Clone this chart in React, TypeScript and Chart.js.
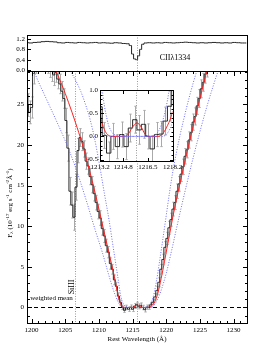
import React, { useEffect, useRef } from "react";
import { Chart, registerables } from "chart.js";

Chart.register(...registerables);

const SERIF = "'Liberation Serif', 'Times New Roman', Times, serif";

// ---------- spectrum around Lyman alpha (flux, 1e-17 erg/s/cm2/A) ----------
const wave = [
  1199.4, 1199.7, 1200.0, 1200.3, 1200.6, 1200.9,
  1201.2, 1201.5, 1201.8, 1202.1, 1202.4, 1202.7,
  1203.0, 1203.3, 1203.6, 1203.9, 1204.2, 1204.5, 1204.8,
  1205.1, 1205.4, 1205.7, 1206.0, 1206.3, 1206.6, 1206.9,
  1207.2, 1207.5, 1207.8, 1208.1, 1208.4, 1208.7, 1209.0, 1209.3, 1209.6, 1209.9,
  1210.2, 1210.5, 1210.8, 1211.1, 1211.4, 1211.7, 1212.0, 1212.3, 1212.6, 1212.9,
  1213.2, 1213.5, 1213.8, 1214.1, 1214.4, 1214.7, 1215.0, 1215.3, 1215.6, 1215.9,
  1216.2, 1216.5, 1216.8, 1217.1, 1217.4, 1217.7,
  1218.0, 1218.3, 1218.6, 1218.9, 1219.2, 1219.5, 1219.8, 1220.1, 1220.4, 1220.7,
  1221.0, 1221.3, 1221.6, 1221.9, 1222.2, 1222.5, 1222.8, 1223.1, 1223.4, 1223.7,
  1224.0, 1224.3, 1224.6, 1224.9, 1225.2, 1225.5, 1225.8, 1226.1, 1226.4, 1226.7,
];
const flux = [
  24.9, 24.0, 24.6, 28.8, 30.2, 31.0,
  31.2, 31.4, 31.0, 30.8, 30.2, 29.7,
  29.1, 28.6, 28.9, 28.1, 27.5, 26.6, 25.7,
  23.0, 19.6, 14.3, 12.6, 11.1, 14.8, 19.3,
  20.9, 20.4, 19.5, 18.0, 17.4, 16.1, 15.1, 14.0, 12.9, 11.8,
  11.0, 9.7, 8.8, 7.6, 6.8, 5.4, 4.7, 3.4, 2.6, 1.4,
  0.64, 0.02, -0.36, 0.0, -0.22, 0.04, -0.22, 0.18, 0.36, 0.14,
  0.26, 0.0, -0.27, 0.04, 0.05, 0.33,
  0.65, 1.3, 2.1, 3.1, 4.7, 5.9, 7.4, 8.5, 9.8, 10.8,
  12.1, 12.9, 14.3, 15.2, 16.4, 17.3, 18.6, 19.4, 20.6, 21.5,
  22.8, 23.5, 24.8, 25.7, 26.9, 27.7, 28.7, 29.5, 30.6, 31.4,
];
const fluxErr = [
  1.4, 1.4, 1.3, 1.3, 1.4, 1.4,
  1.4, 1.4, 1.4, 1.4, 1.4, 1.4,
  1.3, 1.3, 1.2, 1.2, 1.2, 1.2, 1.2,
  1.5, 1.6, 1.7, 1.6, 1.6, 1.6, 1.5,
  1.1, 1.1, 1.0, 1.0, 1.0, 1.0, 1.0, 0.9, 0.9, 0.9,
  0.9, 0.8, 0.8, 0.8, 0.7, 0.7, 0.6, 0.6, 0.5, 0.4,
  0.30, 0.28, 0.24, 0.28, 0.26, 0.27, 0.28, 0.30, 0.29, 0.31,
  0.30, 0.27, 0.28, 0.26, 0.27, 0.30,
  0.32, 0.4, 0.5, 0.55, 0.6, 0.65, 0.7, 0.75, 0.8, 0.8,
  0.85, 0.85, 0.9, 0.9, 0.9, 0.95, 0.95, 1.0, 1.0, 1.0,
  1.0, 1.05, 1.05, 1.1, 1.1, 1.1, 1.1, 1.15, 1.15, 1.2,
];

// ---------- best-fit profile (red) ----------
const fitWave = [
  1203.3, 1204.5, 1205.5, 1206.5, 1207.5, 1208.5, 1209.5, 1210.5, 1211.5, 1212.3,
  1212.9, 1213.2, 1213.5, 1213.8, 1214.1, 1214.8, 1215.1, 1215.4, 1215.75, 1216.05,
  1216.3, 1216.6, 1217.2, 1217.5, 1217.8, 1218.2, 1218.6, 1219.0, 1219.5, 1220.0,
  1220.5, 1221.0, 1221.5, 1222.0, 1223.0, 1224.0, 1225.0, 1226.0, 1226.6,
];
const fitFlux = [
  29.7, 27.4, 25.2, 22.8, 20.2, 17.2, 13.9, 10.3, 6.7, 3.8,
  1.3, 0.5, 0.15, 0.02, 0.0, 0.0, 0.03, 0.18, 0.29, 0.2,
  0.05, 0.0, 0.0, 0.05, 0.2, 0.54, 1.3, 2.6, 4.6, 6.8,
  9.0, 11.2, 13.2, 15.1, 18.8, 22.3, 25.7, 29.0, 31.0,
];

// ---------- +/- column density profiles (blue dotted) ----------
const wideWave = [
  1200.0, 1200.4, 1202.0, 1203.5, 1205.0, 1206.5, 1208.0, 1209.5, 1210.5, 1211.5,
  1212.3, 1213.0, 1213.5, 1214.0, 1217.4, 1217.8, 1218.2, 1218.6, 1219.2, 1220.0,
  1220.8, 1221.6, 1222.4, 1223.2, 1224.0, 1225.0, 1226.0, 1227.0, 1228.0, 1228.6,
];
const wideFlux = [
  30.0, 29.0, 26.0, 23.3, 20.5, 17.3, 13.5, 9.4, 6.8, 3.9,
  1.8, 0.45, 0.05, 0.0, 0.0, 0.05, 0.3, 0.8, 2.0, 4.2,
  7.0, 10.0, 12.9, 15.7, 18.4, 21.6, 24.6, 27.3, 29.8, 31.0,
];
const narrowWave = [
  1205.2, 1205.7, 1206.5, 1207.3, 1208.0, 1208.7, 1209.4, 1210.1, 1210.8, 1211.5,
  1212.2, 1212.8, 1213.3, 1213.7, 1214.0, 1214.3, 1214.6, 1216.6, 1216.9, 1217.3,
  1217.7, 1218.0, 1218.5, 1219.0, 1219.5, 1220.0, 1220.5, 1221.0, 1221.5, 1222.0,
  1222.5, 1223.0, 1223.5, 1224.0, 1224.7, 1225.2,
];
const narrowFlux = [
  30.0, 29.2, 28.0, 26.6, 25.0, 23.1, 20.6, 17.5, 14.1, 10.8,
  7.0, 3.8, 1.2, 0.35, 0.1, 0.02, 0.0, 0.0, 0.02, 0.15,
  0.55, 1.1, 3.0, 5.6, 8.4, 11.3, 14.2, 16.8, 19.0, 21.0,
  22.8, 24.5, 26.1, 27.6, 29.5, 30.6,
];

// ---------- CII 1334 normalised profile (top panel) ----------
const ciiWave = [
  1199.3, 1199.9, 1200.5, 1201.1, 1201.7, 1202.3, 1202.9, 1203.5, 1204.1, 1204.7,
  1205.3, 1205.9, 1206.5, 1207.1, 1207.7, 1208.3, 1208.9, 1209.5, 1210.1, 1210.7,
  1211.3, 1211.9, 1212.5, 1213.1, 1213.7, 1214.3, 1214.7, 1215.0, 1215.3, 1215.6,
  1215.9, 1216.2, 1216.5, 1216.9, 1217.5, 1218.1, 1218.7, 1219.3, 1219.9, 1220.5,
  1221.1, 1221.7, 1222.3, 1222.9, 1223.5, 1224.1, 1224.7, 1225.3, 1225.9, 1226.5,
  1227.1, 1227.7, 1228.3, 1228.9, 1229.5, 1230.1, 1230.7, 1231.3, 1231.9,
];
const ciiFlux = [
  1.06, 1.05, 1.07, 1.08, 1.10, 1.11, 1.10, 1.09, 1.06, 1.05,
  1.07, 1.06, 1.05, 1.07, 1.06, 1.05, 1.06, 1.07, 1.05, 1.06,
  1.05, 1.04, 1.06, 1.05, 1.03, 1.02, 0.95, 0.62, 0.43, 0.40,
  0.55, 0.80, 1.00, 1.05, 1.06, 1.05, 1.06, 1.05, 1.07, 1.06,
  1.05, 1.06, 1.07, 1.08, 1.07, 1.06, 1.05, 1.06, 1.05, 1.06,
  1.07, 1.06, 1.05, 1.06, 1.05, 1.07, 1.06, 1.05, 1.05,
];

// ---------- reference lines and tick labels ----------
const lineSiIII = 1206.5;
const lineLya = 1215.67;
const mainXTicks = [1200, 1205, 1210, 1215, 1220, 1225, 1230];
const mainYTicks = [0, 5, 10, 15, 20, 25];
const topYTicks = [0, 0.4, 0.8, 1.2];
const insetXTicks = [1213.2, 1214.8, 1216.5, 1218.2];
const insetYTicks = [-0.5, 0, 0.5, 1.0];

// ---------- layout ----------
const PW = 274;
const PH = 360;
const MAIN = { l: 27, t: 71, r: 247, b: 323 };
const TOP = { l: 27, t: 35, r: 247, b: 71 };
const INSET = { l: 100, t: 90, r: 172.5, b: 161 };

const pts = (xs: number[], ys: number[]) => xs.map((x, i) => ({ x, y: ys[i] }));
const range = (a: number, b: number, s: number) => {
  const out: number[] = [];
  for (let v = a; v <= b + 1e-9; v += s) out.push(+v.toFixed(4));
  return out;
};

function axis(min: number, max: number, vals: number[], fmt: (v: number) => string, size: number, show: boolean, pad: number) {
  return {
    type: "linear",
    min,
    max,
    bounds: "data",
    display: true,
    grid: { display: false, drawTicks: false },
    border: { display: false },
    afterBuildTicks: (s: any) => {
      s.ticks = vals.map((v) => ({ value: v }));
    },
    afterFit: (s: any) => {
      if (s.isHorizontal()) s.height = size;
      else s.width = size;
    },
    ticks: {
      display: show,
      autoSkip: false,
      maxRotation: 0,
      minRotation: 0,
      padding: pad,
      color: "#000",
      font: { family: SERIF, size: 7 },
      callback: (v: any) => fmt(Number(v)),
    },
  };
}

const histDs = (data: any[]) => ({
  data,
  borderColor: "#262626",
  borderWidth: 1,
  pointRadius: 0,
  fill: false,
  stepped: "middle",
});
const redDs = (data: any[]) => ({
  data,
  borderColor: "#ff2020",
  borderWidth: 1,
  pointRadius: 0,
  fill: false,
  cubicInterpolationMode: "monotone",
});
const blueDs = (data: any[]) => ({
  data,
  borderColor: "#6a6aff",
  borderWidth: 1,
  borderDash: [1, 1.6],
  pointRadius: 0,
  fill: false,
  cubicInterpolationMode: "monotone",
});

function frame(chart: any) {
  const { ctx, chartArea: a } = chart;
  ctx.save();
  ctx.strokeStyle = "#000";
  ctx.lineWidth = 1;
  const l = Math.round(a.left), t = Math.round(a.top), r = Math.round(a.right), b = Math.round(a.bottom);
  ctx.strokeRect(l + 0.5, t + 0.5, r - l, b - t);
  ctx.restore();
}

function ticksX(chart: any, values: number[], len: number, bottom: boolean, top: boolean) {
  const { ctx, chartArea: a, scales } = chart;
  ctx.save();
  ctx.strokeStyle = "#000";
  ctx.lineWidth = 1;
  ctx.beginPath();
  for (const v of values) {
    const px = Math.round(scales.x.getPixelForValue(v)) + 0.5;
    if (px < a.left - 0.5 || px > a.right + 1) continue;
    if (bottom) {
      ctx.moveTo(px, Math.round(a.bottom));
      ctx.lineTo(px, Math.round(a.bottom) - len);
    }
    if (top) {
      ctx.moveTo(px, Math.round(a.top) + 1);
      ctx.lineTo(px, Math.round(a.top) + 1 + len);
    }
  }
  ctx.stroke();
  ctx.restore();
}

function ticksY(chart: any, values: number[], len: number, left: boolean, right: boolean) {
  const { ctx, chartArea: a, scales } = chart;
  ctx.save();
  ctx.strokeStyle = "#000";
  ctx.lineWidth = 1;
  ctx.beginPath();
  for (const v of values) {
    const py = Math.round(scales.y.getPixelForValue(v)) + 0.5;
    if (py < a.top - 0.5 || py > a.bottom + 1) continue;
    if (left) {
      ctx.moveTo(Math.round(a.left) + 1, py);
      ctx.lineTo(Math.round(a.left) + 1 + len, py);
    }
    if (right) {
      ctx.moveTo(Math.round(a.right), py);
      ctx.lineTo(Math.round(a.right) - len, py);
    }
  }
  ctx.stroke();
  ctx.restore();
}

function errorBars(chart: any, xs: number[], ys: number[], es: number[]) {
  const { ctx, chartArea: a, scales } = chart;
  const { x, y } = scales;
  ctx.save();
  ctx.beginPath();
  ctx.rect(a.left, a.top, a.right - a.left, a.bottom - a.top);
  ctx.clip();
  ctx.strokeStyle = "#a9a9a9";
  ctx.lineWidth = 1;
  ctx.beginPath();
  xs.forEach((w, i) => {
    const px = Math.round(x.getPixelForValue(w)) + 0.5;
    const y0 = y.getPixelForValue(ys[i] - es[i]);
    const y1 = y.getPixelForValue(ys[i] + es[i]);
    ctx.moveTo(px, y0);
    ctx.lineTo(px, y1);
    ctx.moveTo(px - 1.2, y0);
    ctx.lineTo(px + 1.2, y0);
    ctx.moveTo(px - 1.2, y1);
    ctx.lineTo(px + 1.2, y1);
  });
  ctx.stroke();
  ctx.restore();
}

function vLine(chart: any, w: number) {
  const { ctx, chartArea: a, scales } = chart;
  const px = Math.round(scales.x.getPixelForValue(w)) + 0.5;
  ctx.save();
  ctx.strokeStyle = "#9a9a9a";
  ctx.lineWidth = 1;
  ctx.setLineDash([1, 1.5]);
  ctx.beginPath();
  ctx.moveTo(px, a.top);
  ctx.lineTo(px, a.bottom);
  ctx.stroke();
  ctx.restore();
}

type Part = { t: string; k: "n" | "sup" | "sub" };
function richText(ctx: any, parts: Part[], cx: number, cy: number, angle: number) {
  ctx.save();
  ctx.translate(cx, cy);
  ctx.rotate(angle);
  ctx.textAlign = "left";
  ctx.textBaseline = "middle";
  ctx.fillStyle = "#000";
  const fontFor = (k: string) => (k === "n" ? `7px ${SERIF}` : `5px ${SERIF}`);
  let total = 0;
  const widths = parts.map((p) => {
    ctx.font = fontFor(p.k);
    const w = ctx.measureText(p.t).width;
    total += w;
    return w;
  });
  let xp = -total / 2;
  parts.forEach((p, i) => {
    ctx.font = fontFor(p.k);
    const dy = p.k === "sup" ? -2.6 : p.k === "sub" ? 2 : 0;
    ctx.fillText(p.t, xp, dy);
    xp += widths[i];
  });
  ctx.restore();
}

const mainDeco = {
  id: "mainDeco",
  beforeDatasetsDraw(chart: any) {
    const { ctx, chartArea: a, scales } = chart;
    errorBars(chart, wave, flux, fluxErr);
    vLine(chart, lineSiIII);
    vLine(chart, lineLya);
    const py = Math.round(scales.y.getPixelForValue(0)) + 0.5;
    ctx.save();
    ctx.strokeStyle = "#000";
    ctx.lineWidth = 1;
    ctx.setLineDash([4, 3]);
    ctx.beginPath();
    ctx.moveTo(a.left, py);
    ctx.lineTo(a.right, py);
    ctx.stroke();
    ctx.restore();
  },
  afterDatasetsDraw(chart: any) {
    frame(chart);
    ticksX(chart, range(1200, 1231, 1), 2, true, true);
    ticksX(chart, mainXTicks, 4, true, true);
    ticksY(chart, range(-1, 29, 1), 2, true, true);
    ticksY(chart, mainYTicks, 4, true, true);
  },
  afterDraw(chart: any) {
    const { ctx, chartArea: a, scales } = chart;
    ctx.save();
    ctx.fillStyle = "#000";
    ctx.font = `7px ${SERIF}`;
    ctx.textAlign = "center";
    ctx.textBaseline = "middle";
    ctx.fillText("Rest Wavelength (Å)", (a.left + a.right) / 2, 339);
    ctx.textAlign = "left";
    ctx.fillText(".weighted mean", a.left + 1.5, scales.y.getPixelForValue(1.2));
    ctx.save();
    ctx.translate(scales.x.getPixelForValue(lineSiIII) - 3.5, 287);
    ctx.rotate(-Math.PI / 2);
    ctx.textAlign = "center";
    ctx.font = `8px ${SERIF}`;
    ctx.fillText("SiIII", 0, 0);
    ctx.restore();
    ctx.restore();
    richText(
      ctx,
      [
        { t: "F", k: "n" },
        { t: "λ", k: "sub" },
        { t: " (10", k: "n" },
        { t: "-17", k: "sup" },
        { t: " erg s", k: "n" },
        { t: "-1", k: "sup" },
        { t: " cm", k: "n" },
        { t: "-2", k: "sup" },
        { t: "Å", k: "n" },
        { t: "-1", k: "sup" },
        { t: ")", k: "n" },
      ],
      10,
      203,
      -Math.PI / 2
    );
  },
};

const topDeco = {
  id: "topDeco",
  beforeDatasetsDraw(chart: any) {
    vLine(chart, lineLya);
  },
  afterDatasetsDraw(chart: any) {
    frame(chart);
    ticksY(chart, topYTicks, 3, true, false);
  },
  afterDraw(chart: any) {
    const { ctx } = chart;
    ctx.save();
    ctx.fillStyle = "#000";
    ctx.font = `8px ${SERIF}`;
    ctx.textAlign = "center";
    ctx.textBaseline = "middle";
    ctx.fillText("CIIλ1334", 175, 57.5);
    ctx.restore();
  },
};

const insetDeco = {
  id: "insetDeco",
  beforeDraw(chart: any) {
    const { ctx, chartArea: a } = chart;
    ctx.save();
    ctx.fillStyle = "#fff";
    ctx.fillRect(a.left, a.top, a.right - a.left, a.bottom - a.top);
    ctx.restore();
  },
  beforeDatasetsDraw(chart: any) {
    errorBars(chart, wave, flux, fluxErr);
    vLine(chart, lineLya);
  },
  afterDatasetsDraw(chart: any) {
    frame(chart);
    ticksX(chart, insetXTicks, 3, true, true);
    ticksY(chart, range(-0.5, 1.0, 0.1), 1.5, true, true);
    ticksY(chart, insetYTicks, 3, true, true);
  },
};

const baseOptions = (box: { l: number; t: number; r: number; b: number }, yw: number, xh: number) => ({
  responsive: false,
  animation: false,
  events: [],
  layout: {
    padding: { left: box.l - yw, top: box.t, right: PW - box.r, bottom: PH - box.b - xh },
  },
  elements: { line: { capBezierPoints: false } },
  plugins: { legend: { display: false }, tooltip: { enabled: false } },
});

function mainConfig(): any {
  return {
    type: "line",
    data: {
      datasets: [
        blueDs(pts(wideWave, wideFlux)),
        blueDs(pts(narrowWave, narrowFlux)),
        redDs(pts(fitWave, fitFlux)),
        histDs(pts(wave, flux)),
      ],
    },
    options: {
      ...baseOptions(MAIN, 27, 20),
      scales: {
        x: axis(1199.32, 1232.0, mainXTicks, (v) => String(v), 20, true, 3),
        y: axis(-1.91, 29.09, mainYTicks, (v) => String(v), 27, true, 3),
      },
    },
    plugins: [mainDeco],
  };
}

function topConfig(): any {
  const xa: any = axis(1199.32, 1232.0, mainXTicks, (v) => String(v), 0, false, 0);
  xa.display = false;
  return {
    type: "line",
    data: { datasets: [histDs(pts(ciiWave, ciiFlux))] },
    options: {
      ...baseOptions(TOP, 27, 0),
      scales: {
        x: xa,
        y: axis(-0.04, 1.36, topYTicks, (v) => v.toFixed(1), 27, true, 2),
      },
    },
    plugins: [topDeco],
  };
}

function insetConfig(): any {
  return {
    type: "line",
    data: {
      datasets: [
        blueDs(pts(wideWave, wideFlux)),
        blueDs(pts(narrowWave, narrowFlux)),
        redDs(pts(fitWave, fitFlux)),
        histDs(pts(wave, flux)),
      ],
    },
    options: {
      ...baseOptions(INSET, 20, 12),
      scales: {
        x: axis(1213.2, 1218.2, insetXTicks, (v) => v.toFixed(1), 12, true, 2),
        y: axis(-0.53, 1.0, insetYTicks, (v) => v.toFixed(1), 20, true, 2),
      },
    },
    plugins: [insetDeco],
  };
}

export default function App() {
  const mainRef = useRef<HTMLCanvasElement>(null);
  const topRef = useRef<HTMLCanvasElement>(null);
  const insetRef = useRef<HTMLCanvasElement>(null);

  useEffect(() => {
    const charts = [
      new Chart(mainRef.current as HTMLCanvasElement, mainConfig()),
      new Chart(topRef.current as HTMLCanvasElement, topConfig()),
      new Chart(insetRef.current as HTMLCanvasElement, insetConfig()),
    ];
    return () => charts.forEach((c) => c.destroy());
  }, []);

  const cs: any = { position: "absolute", left: 0, top: 0, width: PW, height: PH };
  return (
    <div style={{ position: "absolute", left: 0, top: 0, width: PW, height: PH, background: "#fff", overflow: "hidden" }}>
      <canvas ref={mainRef} width={PW} height={PH} style={cs} />
      <canvas ref={topRef} width={PW} height={PH} style={cs} />
      <canvas ref={insetRef} width={PW} height={PH} style={cs} />
    </div>
  );
}
